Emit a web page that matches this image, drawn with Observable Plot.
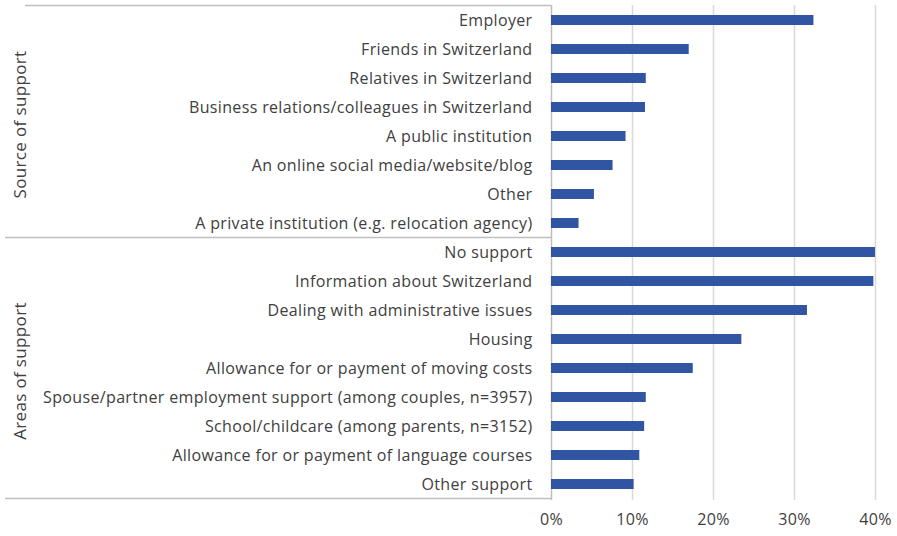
<!DOCTYPE html>
<html>
<head>
<meta charset="utf-8">
<script src="https://cdn.jsdelivr.net/npm/d3@7"></script>
<script src="https://cdn.jsdelivr.net/npm/@observablehq/plot@0.6"></script>
<style>
  html, body { margin: 0; padding: 0; background: #fff; }
  #chart { width: 897px; height: 536px; }
  svg { font-family: "Open Sans", sans-serif; }
  svg text { letter-spacing: 0.35px; }
</style>
</head>
<body>
<div id="chart"></div>
<script>
const groups = ["Source of support", "Areas of support"];
const sourceLabels = [
  "Employer",
  "Friends in Switzerland",
  "Relatives in Switzerland",
  "Business relations/colleagues in Switzerland",
  "A public institution",
  "An online social media/website/blog",
  "Other",
  "A private institution (e.g. relocation agency)"
];
const sourceValues = [32.4, 17.0, 11.7, 11.6, 9.2, 7.6, 5.3, 3.4];
const areaLabels = [
  "No support",
  "Information about Switzerland",
  "Dealing with administrative issues",
  "Housing",
  "Allowance for or payment of moving costs",
  "Spouse/partner employment support (among couples, n=3957)",
  "School/childcare (among parents, n=3152)",
  "Allowance for or payment of language courses",
  "Other support"
];
const areaValues = [40.0, 39.8, 31.6, 23.5, 17.5, 11.7, 11.5, 10.9, 10.2];
const xTicks = [0, 10, 20, 30, 40];

const data = [
  ...sourceLabels.map((label, i) => ({group: groups[0], label, value: sourceValues[i]})),
  ...areaLabels.map((label, i) => ({group: groups[1], label, value: areaValues[i]}))
];
const allLabels = data.map(d => d.label);

const FS = "16px";
const plot = Plot.plot({
  width: 897,
  height: 536,
  marginLeft: 551,
  marginRight: 22,
  marginTop: 5,
  marginBottom: 36,
  style: {fontFamily: "Open Sans, sans-serif", fontSize: FS, color: "#404040"},
  x: {domain: [0, 40], ticks: xTicks, tickFormat: d => d + "%", label: null},
  y: {domain: allLabels, paddingInner: 0.64, paddingOuter: 0.32, label: null},
  marks: [
    Plot.gridX(xTicks.filter(t => t > 0), {stroke: "#d9d9d9", strokeOpacity: 1, strokeWidth: 1.5}),
    Plot.ruleX([0], {stroke: "#bfbfbf", strokeWidth: 1.5}),
    Plot.barX(data, {x: "value", y: "label", fill: "#2f55a3"}),
    Plot.axisX({ticks: xTicks, tickFormat: d => d + "%", tickSize: 0, tickPadding: 13, fontSize: FS, fill: "#404040"}),
    Plot.axisY({tickSize: 0, tickPadding: 19, fontSize: FS, fill: "#404040"})
  ]
});

document.getElementById("chart").appendChild(plot);

// group separators and rotated group labels, positioned through the y scale
const svg = d3.select(plot);
const y = plot.scale("y");
const step = y.step;
const bw = y.bandwidth;
const yTop = l => y.apply(l) - (step - bw) / 2;
const yBot = l => y.apply(l) + bw + (step - bw) / 2;
const x0 = plot.scale("x").apply(0);
const seps = [
  {y: yTop(sourceLabels[0]), x1: 25},
  {y: yBot(sourceLabels[sourceLabels.length - 1]), x1: 5},
  {y: yBot(areaLabels[areaLabels.length - 1]), x1: 5}
];
svg.append("g").selectAll("line").data(seps).join("line")
  .attr("x1", d => d.x1).attr("x2", x0)
  .attr("y1", d => d.y).attr("y2", d => d.y)
  .attr("stroke", "#bfbfbf").attr("stroke-width", 1.5);
const groupSpans = [
  {name: groups[0], a: yTop(sourceLabels[0]), b: yBot(sourceLabels[sourceLabels.length - 1])},
  {name: groups[1], a: yBot(sourceLabels[sourceLabels.length - 1]), b: yBot(areaLabels[areaLabels.length - 1])}
];
svg.append("g").selectAll("text").data(groupSpans).join("text")
  .attr("transform", d => `translate(26,${(d.a + d.b) / 2 + 3}) rotate(-90)`)
  .attr("text-anchor", "middle")
  .attr("font-size", "17px")
  .attr("fill", "#404040")
  .text(d => d.name);
</script>
</body>
</html>
